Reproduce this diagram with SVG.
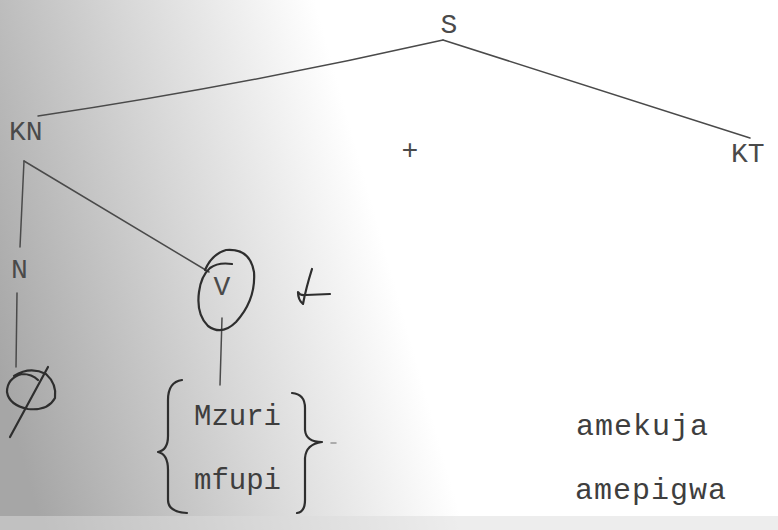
<svg xmlns="http://www.w3.org/2000/svg" width="778" height="530" viewBox="0 0 778 530">
<defs>
<linearGradient id="bg" gradientUnits="userSpaceOnUse" x1="0" y1="380" x2="460" y2="250">
<stop offset="0" stop-color="#a6a6a6"/>
<stop offset="0.45" stop-color="#d6d6d6"/>
<stop offset="0.85" stop-color="#ffffff"/>
</linearGradient>
<style>
.lbl{font-family:"Courier New","Nimbus Mono PS","FreeMono","Liberation Mono",monospace;font-size:28px;fill:#4a4a4a}
.word{font-family:"Courier New","Nimbus Mono PS","FreeMono","Liberation Mono",monospace;font-size:29px;fill:#3e3e3e}
.conn{fill:none;stroke:#4a4a4a;stroke-width:1.5;stroke-linecap:round}
.pen{fill:none;stroke:#2e2e2e;stroke-width:2.2;stroke-linecap:round;stroke-linejoin:round}
</style>
</defs>
<rect width="778" height="530" fill="url(#bg)"/>
<rect x="0" y="516" width="778" height="14" fill="#dcdcdc" opacity="0.5"/>

<g id="connectors">
<path class="conn" d="M38,116 Q240,86 443,40"/>
<path class="conn" d="M443,40 L750,138"/>
<path class="conn" d="M24,161 L20,247"/>
<path class="conn" d="M24,161 L209,272"/>
<path class="conn" d="M17,293 L16,367"/>
<path class="conn" d="M222,318 L220,385"/>
</g>

<g id="node-S"><text class="lbl" x="449" y="33" text-anchor="middle">S</text></g>
<g id="node-KN"><text class="lbl" x="9" y="140">KN</text></g>
<g id="node-plus"><text class="lbl" x="410" y="159" text-anchor="middle">+</text></g>
<g id="node-KT"><text class="lbl" x="731" y="162">KT</text></g>
<g id="node-N"><text class="lbl" x="11" y="278">N</text></g>
<g id="node-V">
<text class="lbl" x="222" y="295" text-anchor="middle">V</text>
<path class="pen" d="M205,270 Q212,254 226,250 Q250,248 254,272 Q256,300 236,322 Q222,336 208,326 Q196,314 199,292 Q201,276 210,268 Q218,262 232,264"/>
</g>
<g id="node-empty">
<path class="pen" d="M14,376 Q30,366 46,374 Q57,384 55,398 Q48,411 28,409 Q9,405 7,392 Q7,378 22,374 Q32,374 38,380"/>
<path class="pen" d="M48,367 L10,437"/>
</g>
<g id="node-check">
<path class="pen" d="M312,269 Q306,288 303,304 Q298,300 298,292 Q300,296 306,295 L330,294"/>
</g>
<g id="node-adj">
<path class="pen" d="M182,380 Q168,382 168,400 L168,436 Q168,450 158,452 Q168,454 168,470 L168,500 Q168,512 187,513"/>
<path class="pen" d="M292,393 Q305,394 305,408 L305,430 Q306,442 322,442 Q306,444 305,458 L305,500 Q305,512 297,513"/>
<path class="conn" d="M331,443 L336,443" opacity="0.5"/>
<text class="word" x="194" y="425">Mzuri</text>
<text class="word" x="194" y="489">mfupi</text>
</g>
<g id="node-verbs">
<text class="word" x="576" y="435" style="font-size:30px;letter-spacing:1px">amekuja</text>
<text class="word" x="575" y="499" style="font-size:30px;letter-spacing:1px">amepigwa</text>
</g>
</svg>
